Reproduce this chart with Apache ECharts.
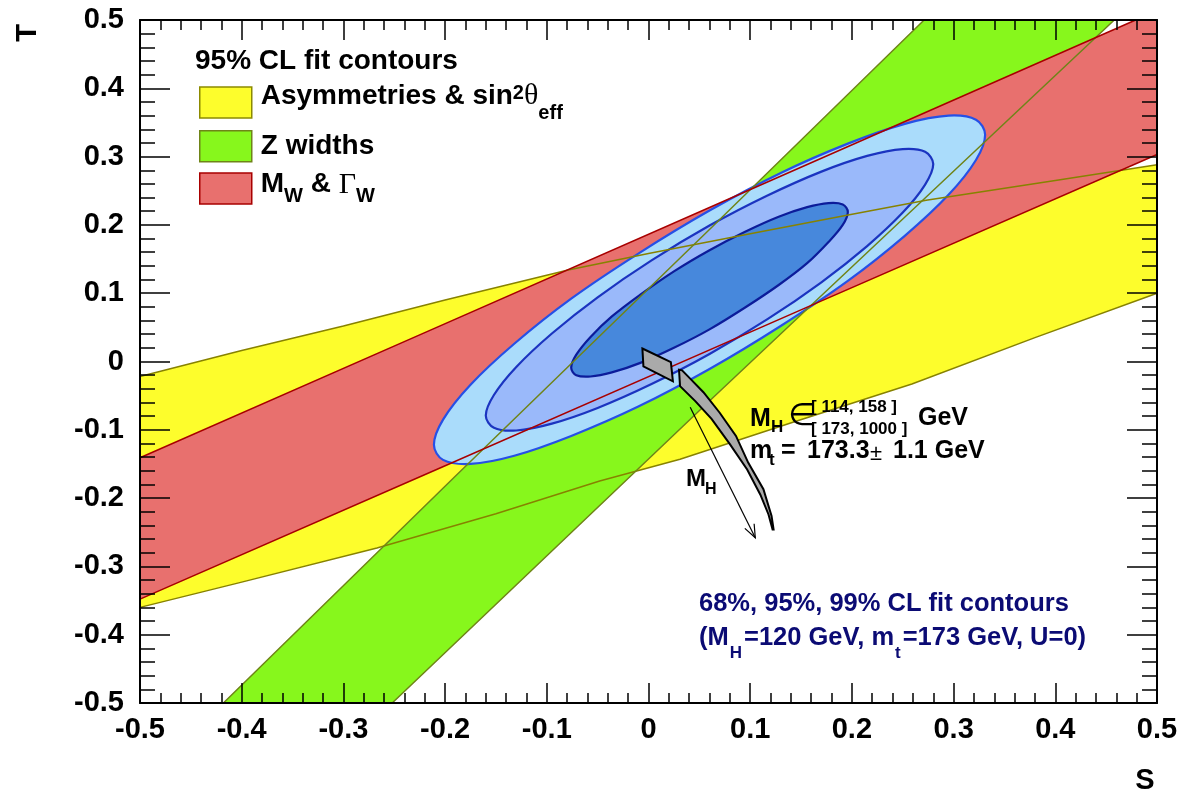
<!DOCTYPE html>
<html>
<head>
<meta charset="utf-8">
<script src="https://cdn.jsdelivr.net/npm/echarts@6/dist/echarts.min.js"></script>
<style>html,body{margin:0;padding:0;background:#fff}#c{width:1178px;height:794px}</style>
</head>
<body>
<div id="c"></div>
<script>
// ---------- data (S, T) ----------
const tickLabels = ['-0.5','-0.4','-0.3','-0.2','-0.1','0','0.1','0.2','0.3','0.4','0.5'];

// Asymmetries & sin2theta_eff band (yellow)
const yellowUpper = [[-0.5,-0.022],[-0.4,0.016],[-0.3,0.052],[-0.2,0.09],[-0.079,0.134],[0.0,0.158],[0.1,0.187],[0.195,0.214],[0.273,0.236],[0.4,0.265],[0.5,0.288]];
const yellowLower = [[-0.5,-0.36],[-0.4,-0.323],[-0.267,-0.273],[-0.15,-0.223],[-0.048,-0.175],[0.031,-0.143],[0.142,-0.089],[0.259,-0.033],[0.38,0.035],[0.5,0.1]];
// Z widths band (green)
const greenLeft  = [[-0.418,-0.5],[-0.19,-0.168],[0.064,0.199],[0.271,0.5]];
const greenRight = [[-0.252,-0.5],[0.062,-0.055],[0.348,0.346],[0.458,0.5]];
// M_W & Gamma_W band (red)
const redUpper = [[-0.5,-0.141],[-0.225,0.039],[0.07,0.232],[0.479,0.5]];
const redCorner = [[0.5,0.5]];
const redLower = [[-0.5,-0.348],[-0.205,-0.156],[0.169,0.088],[0.5,0.303]];
// fit contours
const cl99 = [[0.331,0.332],[0.322,0.295],[0.295,0.244],[0.252,0.184],[0.196,0.118],[0.130,0.052],[0.060,-0.011],[-0.010,-0.066],[-0.076,-0.109],[-0.132,-0.138],[-0.175,-0.150],[-0.202,-0.144],[-0.211,-0.122],[-0.202,-0.085],[-0.175,-0.034],[-0.132,0.026],[-0.076,0.092],[-0.010,0.158],[0.060,0.221],[0.130,0.276],[0.196,0.319],[0.252,0.348],[0.295,0.360],[0.322,0.354]];
const cl95 = [[0.280,0.289],[0.272,0.259],[0.250,0.218],[0.215,0.169],[0.170,0.116],[0.117,0.062],[0.060,0.011],[0.003,-0.033],[-0.050,-0.068],[-0.095,-0.091],[-0.130,-0.101],[-0.152,-0.097],[-0.160,-0.079],[-0.152,-0.049],[-0.130,-0.008],[-0.095,0.041],[-0.050,0.094],[0.003,0.148],[0.060,0.199],[0.117,0.243],[0.170,0.278],[0.215,0.301],[0.250,0.311],[0.272,0.307]];
const cl68 = [[0.196,0.219],[0.191,0.200],[0.177,0.175],[0.156,0.144],[0.128,0.112],[0.095,0.079],[0.060,0.047],[0.025,0.020],[-0.008,-0.002],[-0.036,-0.016],[-0.057,-0.022],[-0.071,-0.020],[-0.076,-0.009],[-0.071,0.010],[-0.057,0.036],[-0.036,0.066],[-0.008,0.098],[0.025,0.132],[0.060,0.163],[0.095,0.190],[0.128,0.212],[0.156,0.226],[0.177,0.232],[0.191,0.230]];
// SM prediction (grey) for M_H in [114,158] and [173,1000]
const smLow  = [[-0.006,0.019],[0.022,-0.001],[0.024,-0.029],[-0.005,-0.007]];
const smHighLeft  = [[0.030,-0.012],[0.031,-0.036],[0.046,-0.058],[0.062,-0.084],[0.080,-0.121],[0.097,-0.158],[0.110,-0.195],[0.118,-0.224],[0.122,-0.246]];
const smHighRight = [[0.033,-0.013],[0.041,-0.025],[0.054,-0.045],[0.070,-0.075],[0.086,-0.109],[0.098,-0.148],[0.113,-0.187],[0.121,-0.226],[0.123,-0.246]];
const mhArrow = [[0.041,-0.067],[0.105,-0.258]];

// ---------- styling ----------
const F = "'Liberation Sans', Arial, Helvetica, sans-serif";
const FS = "'Liberation Serif', 'DejaVu Serif', serif";
const NAVY = '#0b0b74';
const C = {
  yellow: '#fdfd2c', yellowLine: '#878200',
  green: '#87f71c', greenLine: '#6f8418',
  red: '#e8706e', redLine: '#a80000',
  b99: '#aadcfb', b99l: '#2650e6',
  b95: '#9ab9fa', b95l: '#1b34c0',
  b68: '#4788dc', b68l: '#0c1c9a',
  grey: '#aaaaaa'
};
const N1 = 'Asymmetries & sin²θ_eff', N2 = 'Z widths', N3 = 'M_W & Γ_W';

function polySeries(name, pts, fill, stroke, lw, z, smooth) {
  return {
    type: 'custom', name: name, coordinateSystem: 'cartesian2d', z: z, silent: true, clip: true,
    itemStyle: { color: fill }, encode: { x: 0, y: 1 }, data: pts,
    renderItem: function (params, api) {
      if (params.dataIndex !== 0) return null;
      return { type: 'polygon',
        shape: { points: pts.map(function (p) { return api.coord(p); }), smooth: smooth || 0 },
        style: { fill: fill, stroke: stroke || null, lineWidth: lw || 0 } };
    }
  };
}
function edgeSeries(pts, color, width, z) {
  return { type: 'line', data: pts, showSymbol: false, symbol: 'none', silent: true, z: z, clip: true,
    lineStyle: { color: color, width: width } };
}
function rev(a) { return a.slice().reverse(); }

const series = [
  polySeries(N1, yellowUpper.concat(rev(yellowLower)), C.yellow, null, 0, 1),
  polySeries(N2, greenLeft.concat(rev(greenRight)), C.green, null, 0, 2),
  polySeries(N3, redUpper.concat(redCorner, rev(redLower)), C.red, null, 0, 3),
  polySeries('99% CL', cl99, C.b99, C.b99l, 2.2, 4, 0.35),
  polySeries('95% CL', cl95, C.b95, C.b95l, 2.2, 5, 0.35),
  polySeries('68% CL', cl68, C.b68, C.b68l, 2.2, 6, 0.35),
  edgeSeries(yellowUpper, C.yellowLine, 1.5, 7),
  edgeSeries(yellowLower, C.yellowLine, 1.5, 7),
  edgeSeries(greenLeft, C.greenLine, 1.5, 7),
  edgeSeries(greenRight, C.greenLine, 1.5, 7),
  edgeSeries(redUpper, C.redLine, 1.5, 7),
  edgeSeries(redLower, C.redLine, 1.5, 7),
  polySeries('SM low', smLow, C.grey, '#000', 2, 8),
  polySeries('SM high', smHighLeft.concat(rev(smHighRight)), C.grey, '#000', 2, 8),
  {
    type: 'custom', coordinateSystem: 'cartesian2d', z: 8, silent: true, data: mhArrow, encode: { x: 0, y: 1 },
    renderItem: function (params, api) {
      if (params.dataIndex !== 0) return null;
      const a = api.coord(mhArrow[0]), b = api.coord(mhArrow[1]);
      const ang = Math.atan2(b[1] - a[1], b[0] - a[0]), L = 14, w = 0.38;
      const h1 = [b[0] - L * Math.cos(ang - w), b[1] - L * Math.sin(ang - w)];
      const h2 = [b[0] - L * Math.cos(ang + w), b[1] - L * Math.sin(ang + w)];
      return { type: 'group', children: [
        { type: 'line', shape: { x1: a[0], y1: a[1], x2: b[0], y2: b[1] }, style: { stroke: '#000', lineWidth: 1.2 } },
        { type: 'polyline', shape: { points: [h1, b, h2] }, style: { stroke: '#000', lineWidth: 1.2, fill: null } }
      ] };
    }
  }
];

function fmt(v) { return tickLabels[Math.round((v + 0.5) * 10)]; }
function xAx(pos, showLabel) {
  return { type: 'value', min: -0.5, max: 0.5, interval: 0.1, position: pos, z: 10,
    axisLine: { show: true, onZero: false, lineStyle: { color: '#000', width: 2 } },
    axisTick: { show: true, inside: true, length: 20, lineStyle: { color: '#000', width: 1.5 } },
    minorTick: { show: true, splitNumber: 5, length: 10, lineStyle: { color: '#000', width: 1.5 } },
    splitLine: { show: false }, minorSplitLine: { show: false },
    axisLabel: { show: showLabel, margin: 12, fontSize: 29, fontWeight: 'bold', color: '#000', fontFamily: F, formatter: fmt } };
}
function yAx(pos, showLabel) {
  return { type: 'value', min: -0.5, max: 0.5, interval: 0.1, position: pos, z: 10,
    axisLine: { show: true, onZero: false, lineStyle: { color: '#000', width: 2 } },
    axisTick: { show: true, inside: true, length: 30, lineStyle: { color: '#000', width: 1.5 } },
    minorTick: { show: true, splitNumber: 5, length: 15, lineStyle: { color: '#000', width: 1.5 } },
    splitLine: { show: false }, minorSplitLine: { show: false },
    axisLabel: { show: showLabel, margin: 16, fontSize: 29, fontWeight: 'bold', color: '#000', fontFamily: F, formatter: fmt } };
}

const legendText = {};
legendText[N1] = '{a0|Asymmetries & sin}{supA|2}{gA|θ}{subA|eff}';
legendText[N2] = '{z0|Z widths}';
legendText[N3] = '{w0|M}{subW|W}{w| & }{gW|Γ}{subW|W}';

function rt(size, pad, serif, bold) {
  return { fontSize: size, fontWeight: bold === false ? 'normal' : 'bold', fontFamily: serif ? FS : F,
    color: '#000', lineHeight: 2, verticalAlign: 'middle', padding: pad };
}
const legendRich = {
  a0: rt(28, [0, 0, 13, 4]),
  supA: rt(20, [0, 0, 18, 0]),
  gA: rt(30, [0, 0, 12, 0], true, false),
  subA: rt(20, [22, 0, 0, 0]),
  z0: rt(28, [0, 0, 0, 4]),
  w0: rt(28, [0, 0, 8, 4]),
  w: rt(28, [0, 0, 8, 0]),
  gW: rt(30, [0, 0, 7, 0], true, false),
  subW: rt(20, [15, 0, 0, 0])
};
function legendFor(name, fill, border, top) {
  return {
    orient: 'vertical', left: 199, top: top, padding: 0, itemWidth: 52, itemHeight: 31,
    icon: 'rect', selectedMode: false,
    data: [{ name: name, itemStyle: { color: fill, borderColor: border, borderWidth: 1.5 } }],
    formatter: function (n) { return legendText[n]; },
    textStyle: { fontFamily: F, color: '#000', rich: legendRich }
  };
}

function t(x, y, text, size, extra) {
  const st = Object.assign({ text: text, fontSize: size, fontWeight: 'bold', fontFamily: F, fill: '#000', verticalAlign: 'middle' }, extra || {});
  return { type: 'text', x: x, y: y, z: 100, silent: true, style: st };
}

const option = {
  animation: false,
  backgroundColor: '#fff',
  grid: { left: 140, right: 21, top: 20, bottom: 91, containLabel: false, outerBoundsMode: 'none', show: false },
  xAxis: [xAx('bottom', true), xAx('top', false)],
  yAxis: [yAx('left', true), yAx('right', false)],
  title: { text: '95% CL fit contours', left: 195, top: 47, padding: 0,
    textStyle: { fontSize: 28, fontWeight: 'bold', color: '#000', fontFamily: F } },
  legend: [
    legendFor(N1, C.yellow, '#8c8a00', 81.5),
    legendFor(N2, C.green, '#6f8418', 130),
    legendFor(N3, C.red, '#a80000', 170)
  ],
  graphic: [
    Object.assign(t(28, 33, 'T', 29, { align: 'center' }), { rotation: Math.PI / 2 }),
    t(1145, 781, 'S', 29, { align: 'center' }),
    // M_H in [..] GeV
    t(750, 419, 'M', 25),
    t(771, 427, 'H', 17),
    t(788, 417, '∈', 31, { fontWeight: 'normal', fontFamily: "'DejaVu Sans', sans-serif" }),
    t(811, 407, '[ 114, 158 ]', 17),
    t(811, 429, '[ 173, 1000 ]', 17),
    t(918, 418, 'GeV', 25),
    // m_t line
    t(750, 451, 'm', 25),
    t(769, 460, 't', 17),
    t(781, 451, '=', 25),
    t(807, 451, '173.3', 25),
    t(870, 454, '±', 22, { fontWeight: 'normal' }),
    t(893, 451, '1.1 GeV', 25),
    // arrow label
    t(686, 479, 'M', 24),
    t(705, 490, 'H', 16),
    // blue texts
    t(699, 604, '68%, 95%, 99% CL fit contours', 25.5, { fill: NAVY }),
    { type: 'text', x: 699, y: 638, z: 100, silent: true, style: {
      text: '{b|(M}{s|H}{b|=120 GeV, m}{s|t}{b|=173 GeV, U=0)}', verticalAlign: 'middle',
      rich: {
        b: { fontSize: 25.5, fontWeight: 'bold', fontFamily: F, fill: NAVY, color: NAVY, lineHeight: 30, verticalAlign: 'middle' },
        s: { fontSize: 17, fontWeight: 'bold', fontFamily: F, fill: NAVY, color: NAVY, lineHeight: 17, verticalAlign: 'middle', padding: [31, 2, 0, 1] }
      } } }
  ],
  series: series
};

const chart = echarts.init(document.getElementById('c'), null, { renderer: 'canvas', devicePixelRatio: 1 });
chart.setOption(option);
</script>
</body>
</html>
